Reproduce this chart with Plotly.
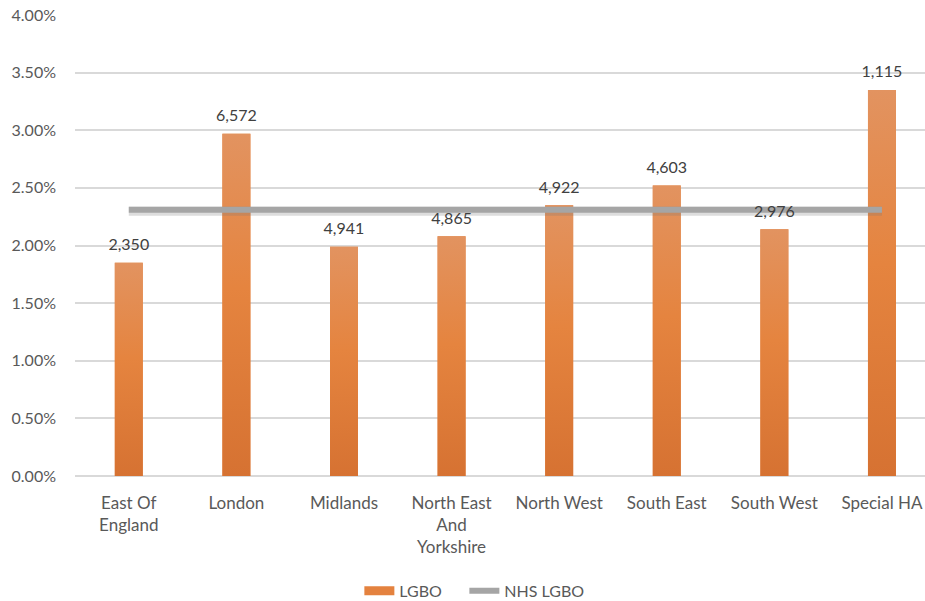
import plotly.graph_objects as go

# Regions and their LGBO share (fraction), with headcounts shown above each bar
regions = ["East Of<br>England", "London", "Midlands", "North East<br>And<br>Yorkshire",
           "North West", "South East", "South West", "Special HA"]
lgbo_share = [0.0185, 0.0297, 0.0199, 0.0208, 0.0235, 0.0252, 0.0214, 0.0335]
lgbo_count = ["2,350", "6,572", "4,941", "4,865", "4,922", "4,603", "2,976", "1,115"]
nhs_lgbo_share = 0.0231

y_ticks = [0, 0.005, 0.01, 0.015, 0.02, 0.025, 0.03, 0.035, 0.04]

BAR_W = 0.26
ORANGE = "#E4823F"
GREY = "#A5A5A5"
FONT = "Lato, 'Open Sans', sans-serif"

xs = list(range(len(regions)))

fig = go.Figure()

# Base bars
fig.add_trace(go.Bar(
    x=xs, y=lgbo_share, width=BAR_W, name="LGBO",
    marker=dict(color=ORANGE, line=dict(width=0)),
    showlegend=False, hoverinfo="skip",
))

# Vertical gradient overlay on each bar
for x, v in zip(xs, lgbo_share):
    fig.add_trace(go.Scatter(
        x=[x - BAR_W / 2, x - BAR_W / 2, x + BAR_W / 2, x + BAR_W / 2, x - BAR_W / 2],
        y=[0, v, v, 0, 0], mode="lines", line=dict(width=0),
        fill="toself",
        fillgradient=dict(type="vertical", start=0, stop=v,
                          colorscale=[[0, "#D67232"], [0.55, "#E5843F"], [1, "#E29360"]]),
        showlegend=False, hoverinfo="skip",
    ))

# Legend entry for the bars, drawn as a thick swatch
fig.add_trace(go.Scatter(
    x=[None], y=[None], mode="lines", name="LGBO",
    line=dict(color=ORANGE, width=9), legendwidth=60,
))

# Soft shadow under the national reference line
fig.add_trace(go.Scatter(
    x=[xs[0], xs[-1]], y=[nhs_lgbo_share - 0.00012] * 2, mode="lines",
    line=dict(color="rgba(120,120,120,0.25)", width=9),
    showlegend=False, hoverinfo="skip",
))
fig.add_trace(go.Scatter(
    x=[xs[0], xs[-1]], y=[nhs_lgbo_share] * 2, mode="lines", name="NHS LGBO",
    line=dict(color=GREY, width=6),
))

# Headcount labels above the bars
fig.add_trace(go.Scatter(
    x=xs, y=lgbo_share, mode="markers+text", text=lgbo_count,
    textposition="top center", cliponaxis=False,
    marker=dict(size=12, opacity=0),
    textfont=dict(size=16, color="#404040", family=FONT),
    showlegend=False, hoverinfo="skip",
))

fig.update_layout(
    width=925, height=601,
    margin=dict(l=75, r=0, t=15, b=125, autoexpand=False),
    paper_bgcolor="white", plot_bgcolor="white",
    font=dict(family=FONT, size=16, color="#595959"),
    showlegend=True,
    legend=dict(orientation="h", yref="container", xref="container",
                x=0.3885, xanchor="left", y=0.017, yanchor="middle",
                font=dict(size=16, color="#595959"), itemwidth=30,
                traceorder="normal"),
)
fig.update_xaxes(
    range=[-0.5, 7.4], tickmode="array", tickvals=xs, ticktext=regions,
    showgrid=False, zeroline=False, showline=False, ticks="",
    ticklabelstandoff=15, automargin=False,
    tickfont=dict(size=17, color="#595959"),
)
fig.update_yaxes(
    range=[0, 0.04], tickvals=y_ticks, tickformat=".2%",
    showgrid=True, gridcolor="#D9D9D9", gridwidth=1.5,
    zeroline=True, zerolinecolor="#D9D9D9", zerolinewidth=1.5,
    showline=False, ticks="", ticklabelstandoff=18, automargin=False,
    tickfont=dict(size=16, color="#595959"),
)

fig.write_html("out.html")
